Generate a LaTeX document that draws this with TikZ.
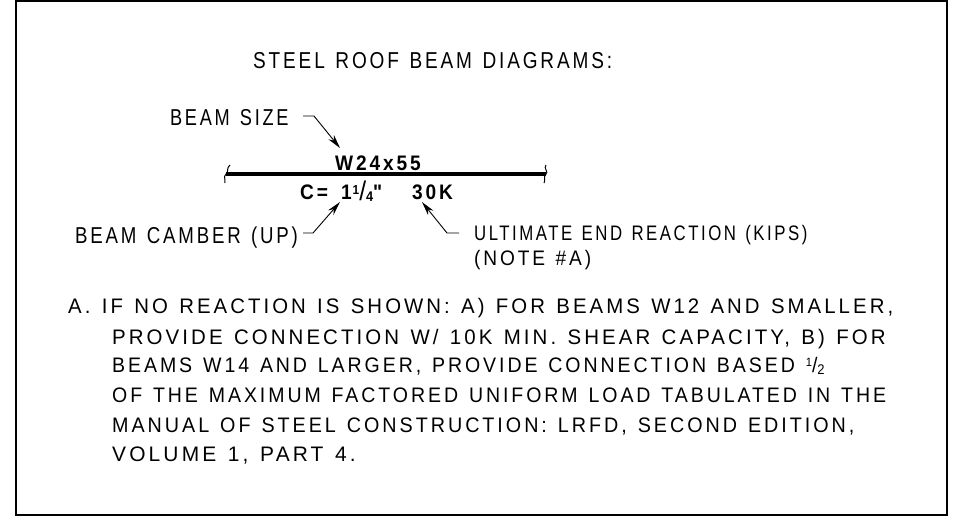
\documentclass[tikz,border=0pt]{standalone}
\usepackage{fontspec}
\setmainfont{Liberation Sans}
\newfontfamily\platefont[LetterSpace=15,WordSpace=1.3]{Liberation Sans}
\newcommand{\platefrac}[3]{#1\kern1pt\raisebox{5pt}{\fontsize{13}{13}\selectfont #2}\kern0pt\raisebox{-1pt}{\fontsize{27}{27}\selectfont\mdseries /}\kern0pt\raisebox{-2pt}{\fontsize{14}{14}\selectfont #3}}
\usetikzlibrary{arrows.meta}
\tikzset{
	plate/.style={inner sep=0pt,anchor=base west,font=\fontsize{23}{23}\platefont,transform shape},
	noteline/.style={plate,font=\fontsize{21}{21}\platefont},
	callout/.style={plate,font=\fontsize{21}{21}\platefont\bfseries,xscale=0.91},
	leader/.style={line width=0.9pt,-{Stealth[length=14pt,width=7pt]}},
	beam/.style={line width=4pt},
	breakmark/.style={line width=1pt}
}
\begin{document}
\begin{tikzpicture}[x=1pt,y=-1pt]
	\useasboundingbox (0,0) rectangle (971,520);
	\draw[line width=2.4pt] (16,1) rectangle (947,515);
	\node [plate,xscale=0.827] (title) at (253,68) {STEEL ROOF BEAM DIAGRAMS:};
	\node [plate,xscale=0.79] (size) at (170,125) {BEAM SIZE};
	\node [plate,xscale=0.812] (camber) at (75,243) {BEAM CAMBER (UP)};
	\node [noteline,xscale=0.80] (reaction) at (474,240) {ULTIMATE END REACTION (KIPS)};
	\node [noteline,xscale=0.91] (note) at (474,265) {(NOTE \#A)};
	\coordinate (beamw) at (226,174);
	\coordinate (beame) at (546,174);
	\coordinate (sizestart) at (303,116);
	\coordinate (sizebend) at (314,116);
	\coordinate (sizetip) at (340,148);
	\coordinate (camberstart) at (303,233);
	\coordinate (camberbend) at (313,233);
	\coordinate (cambertip) at (340,202);
	\coordinate (reactstart) at (459,233);
	\coordinate (reactbend) at (447,233);
	\coordinate (reacttip) at (422,202);
	\node [callout] (section) at (335,170) {W24x55};
	\node [callout] (camberc) at (300,199) {C=};
	\node [callout] (camberv) at (341,199) {\platefrac{1}{1}{4}"};
	\node [callout] (load) at (412,199) {30K};
	\draw[beam] (beamw) -- (beame);
	\draw[breakmark] (230,165) .. controls (226,168) and (229,172) .. (beamw) .. controls (223,177) and (226,180) .. (225,183);
	\draw[breakmark] (546,165) .. controls (543,168) and (549,172) .. (beame) .. controls (543,177) and (546,180) .. (544,183);
	\draw[leader] (sizestart) -- (sizebend) -- (sizetip);
	\draw[leader] (camberstart) -- (camberbend) -- (cambertip);
	\draw[leader] (reactstart) -- (reactbend) -- (reacttip);
	% note text
	\node [noteline,xscale=0.97] (linea) at (68,313) {A. IF NO REACTION IS SHOWN: A) FOR BEAMS W12 AND SMALLER,};
	\node [noteline,xscale=0.974] (lineb) at (112,344) {PROVIDE CONNECTION W/ 10K MIN. SHEAR CAPACITY, B) FOR};
	\node [noteline,xscale=0.93] (linec) at (112,372) {BEAMS W14 AND LARGER, PROVIDE CONNECTION BASED \raisebox{6pt}{\fontsize{12}{12}\selectfont 1}/\raisebox{-2pt}{\fontsize{14}{14}\selectfont 2}};
	\node [noteline,xscale=0.93] (lined) at (112,402) {OF THE MAXIMUM FACTORED UNIFORM LOAD TABULATED IN THE};
	\node [noteline,xscale=0.94] (linee) at (112,432) {MANUAL OF STEEL CONSTRUCTION: LRFD, SECOND EDITION,};
	\node [noteline,xscale=0.997] (linef) at (112,461) {VOLUME 1, PART 4.};
\end{tikzpicture}
\end{document}
